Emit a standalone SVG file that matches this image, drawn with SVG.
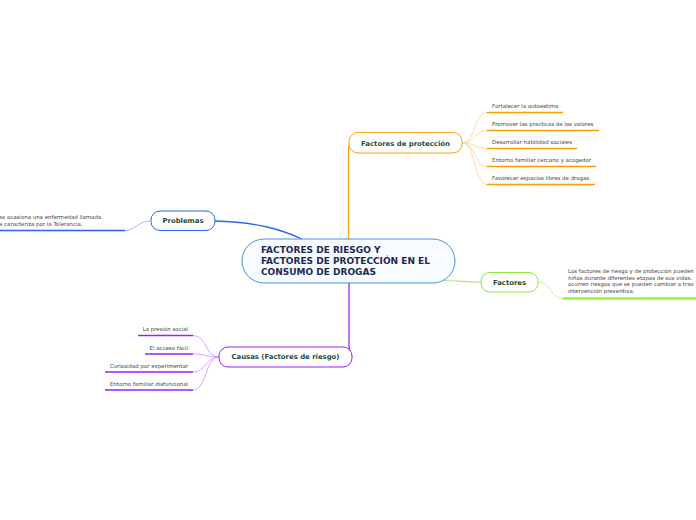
<svg xmlns="http://www.w3.org/2000/svg" width="696" height="520" viewBox="0 0 696 520">
<style>
.nt{font-family:"DejaVu Sans",Verdana,sans-serif;font-weight:bold;fill:#1d4a3c;font-size:6.9px;text-anchor:middle}
.lt{font-family:"DejaVu Sans",Verdana,sans-serif;fill:#444;font-size:5.45px}
.ct{font-family:"DejaVu Sans",Verdana,sans-serif;font-weight:bold;fill:#1b2a4e;font-size:9px}
.c{fill:none}
</style>
<rect width="696" height="520" fill="#fff"/>
<g id="connectors">
  <path class="c" d="M215,221 C258,222 282,230 302,239" stroke="#2f64f0" stroke-width="1.3"/>
  <path class="c" d="M151,221 C138,221 136,230 125,230.5" stroke="#8fa8ff" stroke-width="0.8"/>
  <path class="c" d="M0,230.5 H125" stroke="#2f5ff0" stroke-width="1.6"/>
  <path class="c" d="M348.5,239 V152 Q348.5,143 352,140" stroke="#f5a31a" stroke-width="1.3"/>
  <path class="c" d="M462,143 C476,143 474,112.5 487,112.5" stroke="#ffd08c" stroke-width="0.8"/>
  <path class="c" d="M462,143 C476,143 474,130.5 487,130.5" stroke="#ffd08c" stroke-width="0.8"/>
  <path class="c" d="M462,143 C476,143 474,148.5 487,148.5" stroke="#ffd08c" stroke-width="0.8"/>
  <path class="c" d="M462,143 C476,143 474,166.5 487,166.5" stroke="#ffd08c" stroke-width="0.8"/>
  <path class="c" d="M462,143 C476,143 474,184.5 487,184.5" stroke="#ffd08c" stroke-width="0.8"/>
  <g stroke="#f5a000" stroke-width="1.6">
    <path class="c" d="M487,112.5 H563"/>
    <path class="c" d="M487,130.5 H599"/>
    <path class="c" d="M487,148.5 H577"/>
    <path class="c" d="M487,166.5 H596"/>
    <path class="c" d="M487,184.5 H595"/>
  </g>
  <path class="c" d="M444,280.5 C460,281 470,282 481,282" stroke="#a6e86a" stroke-width="1.2"/>
  <path class="c" d="M538,282 C552,282 550,298.5 563,298.5" stroke="#b8f07a" stroke-width="0.8"/>
  <path class="c" d="M563,298.5 H696" stroke="#8ee636" stroke-width="1.8"/>
  <path class="c" d="M349,283 V346 Q349,352 352,357" stroke="#a628f0" stroke-width="1.3"/>
  <path class="c" d="M219,357 C205,357 207,335.5 193,335.5" stroke="#d48cff" stroke-width="0.8"/>
  <path class="c" d="M219,357 C205,357 207,354 193,354" stroke="#d48cff" stroke-width="0.8"/>
  <path class="c" d="M219,357 C205,357 207,372 193,372" stroke="#d48cff" stroke-width="0.8"/>
  <path class="c" d="M219,357 C205,357 207,390 193,390" stroke="#d48cff" stroke-width="0.8"/>
  <g stroke="#a020f0" stroke-width="1.6">
    <path class="c" d="M138,335.5 H193"/>
    <path class="c" d="M145,354 H193"/>
    <path class="c" d="M105,372 H193"/>
    <path class="c" d="M105,390 H193"/>
  </g>
</g>
<g id="central">
  <rect x="242" y="239" width="213" height="44" rx="22" fill="#f8fbff" stroke="#4a90d9" stroke-width="1"/>
  <text class="ct" x="261" y="253.3">FACTORES DE RIESGO Y</text>
  <text class="ct" x="261" y="264.3">FACTORES DE PROTECCIÓN EN EL</text>
  <text class="ct" x="261" y="275.3">CONSUMO DE DROGAS</text>
</g>
<g id="proteccion">
  <rect x="349" y="132.5" width="113" height="20.5" rx="9" fill="#fff" stroke="#f5a31a" stroke-width="1"/>
  <text class="nt" x="405.5" y="145.5">Factores de protección</text>
</g>
<g id="prot-items">
  <text class="lt" x="492" y="108">Fortalecer la autoestima</text>
  <text class="lt" x="492" y="126">Promover las practicas de los valores</text>
  <text class="lt" x="492" y="144">Desarrollar habilidad sociales</text>
  <text class="lt" x="492" y="162">Entorno familiar cercano y acogedor</text>
  <text class="lt" x="492" y="180">Favorecer espacios libres de drogas</text>
</g>
<g id="problemas">
  <rect x="151" y="211" width="64" height="19.5" rx="9" fill="#fff" stroke="#2f64f0" stroke-width="1"/>
  <text class="nt" x="183" y="223.3">Problemas</text>
</g>
<g id="problemas-item">
  <text class="lt" x="-1" y="219">as ocasiona una enfermedad llamada</text>
  <text class="lt" x="-1" y="226">e caracteriza por la Tolerancia.</text>
</g>
<g id="factores">
  <rect x="481" y="272.5" width="57" height="19.5" rx="9" fill="#fff" stroke="#8ee636" stroke-width="1"/>
  <text class="nt" x="509.5" y="284.6">Factores</text>
</g>
<g id="factores-item">
  <text class="lt" x="568" y="273">Los factores de riesgo y de protección pueden</text>
  <text class="lt" x="568" y="279.7">niños durante diferentes etapas de sus vidas.</text>
  <text class="lt" x="568" y="286.4">ocurren riesgos que se pueden cambiar a trav</text>
  <text class="lt" x="568" y="293.1">intervención preventiva.</text>
</g>
<g id="causas">
  <rect x="219" y="347" width="133" height="20" rx="9" fill="#fff" stroke="#a020f0" stroke-width="1"/>
  <text class="nt" x="285.5" y="359.4">Causas (Factores de riesgo)</text>
</g>
<g id="causas-items">
  <text class="lt" x="188" y="331" text-anchor="end">La presión social</text>
  <text class="lt" x="188" y="349.5" text-anchor="end">El acceso fácil</text>
  <text class="lt" x="188" y="367.5" text-anchor="end">Curiosidad por experimentar</text>
  <text class="lt" x="188" y="385.5" text-anchor="end">Entorno familiar disfuncional</text>
</g>
</svg>
